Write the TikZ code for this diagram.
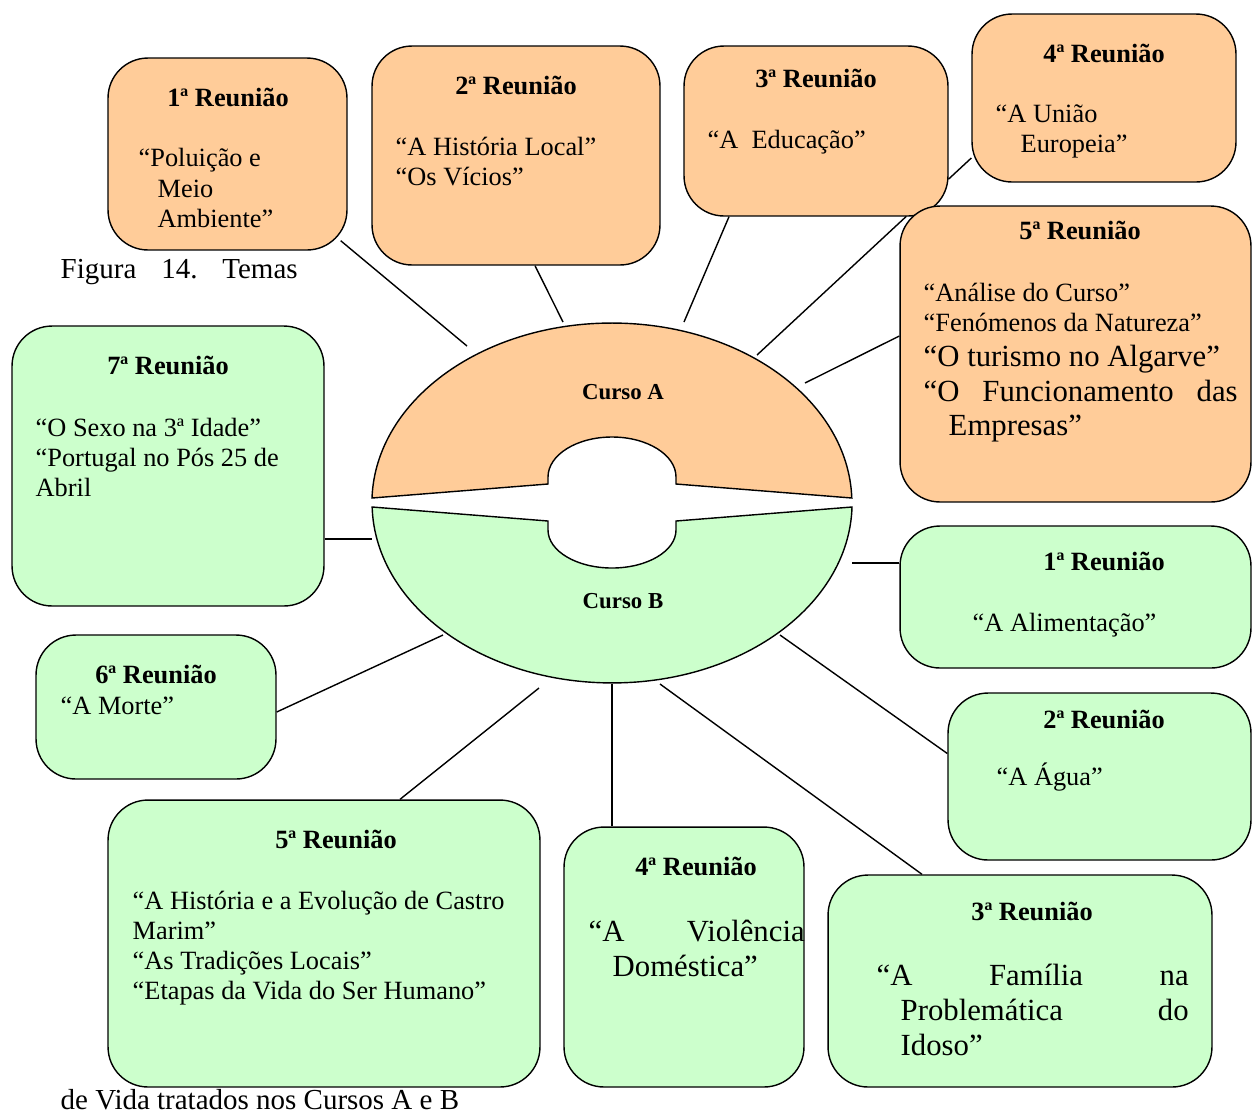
\documentclass[tikz,border=0pt]{standalone}
\usepackage{fontspec}
\setmainfont{Liberation Serif}
\usepackage{tikz}
\usetikzlibrary{calc,positioning}
\definecolor{laranja}{RGB}{255,204,153}
\definecolor{verde}{RGB}{204,255,204}

\begin{document}
\begin{tikzpicture}[x=0.02cm, y=-0.02cm, line width=0.8pt,
  caixa/.style={draw, rounded corners=0.8cm, inner sep=0pt},
  cursoA/.style={caixa, fill=laranja},
  cursoB/.style={caixa, fill=verde},
  titulo/.style={font=\fontsize{15}{17}\selectfont\bfseries, inner sep=0pt, anchor=base},
  texto/.style={font=\fontsize{15}{17.1}\selectfont, align=left, inner sep=0pt, anchor=north west},
  textog/.style={texto, font=\fontsize{17.5}{19.9}\selectfont},
  legenda/.style={texto, font=\fontsize{16.5}{19}\selectfont},
  liga/.style={draw, line width=0.8pt}]
\useasboundingbox (0,0) rectangle (1253,1117);

% as duas metades do anel
\draw[fill=laranja] (372,498) arc[start angle=181.6, end angle=358.4, x radius=240, y radius=180]
  -- (676,484) -- (676,477) arc[start angle=0, end angle=-180, x radius=64, y radius=40] -- (548,484) -- cycle;
\draw[fill=verde] (852,507) arc[start angle=1.3, end angle=178.7, x radius=240, y radius=180]
  -- (548,521) -- (548,530) arc[start angle=180, end angle=0, x radius=64, y radius=38] -- (676,521) -- cycle;
\node[font=\fontsize{13}{15}\selectfont\bfseries] (ca) at (623,392) {Curso A};
\node[font=\fontsize{13}{15}\selectfont\bfseries] (cb) at (623,601) {Curso B};

% pontos de ligacao no anel
\coordinate (pa1) at (467,346);
\coordinate (pa2) at (563,322);
\coordinate (pa3) at (684,322);
\coordinate (pa5a) at (757,355);
\coordinate (pa5b) at (805,383);
\coordinate (pb7) at (372,539);
\coordinate (pb1) at (852,563);
\coordinate (pb2) at (780,635);
\coordinate (pb3) at (660,684);
\coordinate (pb4) at (612,684);
\coordinate (pb5) at (539,688);
\coordinate (pb6) at (443,635);

% Curso A
\node[cursoA, minimum width=4.78cm, minimum height=3.84cm] (a1) at (227.5,154) {};
\node[cursoA, minimum width=5.76cm, minimum height=4.38cm] (a2) at (516,155.5) {};
\node[cursoA, minimum width=5.28cm, minimum height=3.40cm] (a3) at (816,131) {};
\node[cursoA, minimum width=5.28cm, minimum height=3.36cm] (a4) at (1104,98) {};
\node[cursoA, minimum width=7.02cm, minimum height=5.92cm] (a5) at (1075.5,354) {};

% Curso B
\node[cursoB, minimum width=6.24cm, minimum height=5.60cm] (b7) at (168,466) {};
\node[cursoB, minimum width=4.80cm, minimum height=2.88cm] (b6) at (156,707) {};
\node[cursoB, minimum width=8.64cm, minimum height=5.74cm] (b5) at (324,943.5) {};
\node[cursoB, minimum width=4.80cm, minimum height=5.20cm] (b4) at (684,957) {};
\node[cursoB, minimum width=7.68cm, minimum height=4.24cm] (b3) at (1020,981) {};
\node[cursoB, minimum width=7.02cm, minimum height=2.84cm] (b1) at (1075.5,597) {};
\node[cursoB, minimum width=6.06cm, minimum height=3.34cm] (b2) at (1099.5,776.5) {};

% ligacoes
\draw[liga] ($(a1.south east)+(-7,-10)$) -- (pa1);
\draw[liga] ($(a2.south)+(19,0)$) -- (pa2);
\draw[liga] ($(a3.south)+(-87,0)$) -- (pa3);
\draw[liga] ($(a4.west)+(0,60)$) -- ($(a3.east)+(0,48)$);
\draw[liga] ($(a5.north west)+(7,11)$) -- (pa5a);
\draw[liga] ($(a5.west)+(0,-18)$) -- (pa5b);
\draw[liga] ($(b7.east)+(0,73)$) -- (pb7);
\draw[liga] ($(b1.west)+(0,-34)$) -- (pb1);
\draw[liga] ($(b2.west)+(0,-23)$) -- (pb2);
\draw[liga] ($(b3.north)+(-98,0)$) -- (pb3);
\draw[liga] ($(b4.north)+(-72,0)$) -- (pb4);
\draw[liga] ($(b5.north)+(76,0)$) -- (pb5);
\draw[liga] ($(b6.east)+(0,5)$) -- (pb6);

% titulos
\node[titulo] (ta1) at (228,106) {1ª Reunião};
\node[titulo] (ta2) at (516,94) {2ª Reunião};
\node[titulo] (ta3) at (816,87) {3ª Reunião};
\node[titulo] (ta4) at (1104,62) {4ª Reunião};
\node[titulo] (ta5) at (1080,239) {5ª Reunião};
\node[titulo] (tb7) at (168,374) {7ª Reunião};
\node[titulo] (tb6) at (156,683) {6ª Reunião};
\node[titulo] (tb5) at (336,848) {5ª Reunião};
\node[titulo] (tb4) at (696,875) {4ª Reunião};
\node[titulo] (tb3) at (1032,920) {3ª Reunião};
\node[titulo] (tb1) at (1104,570) {1ª Reunião};
\node[titulo] (tb2) at (1104,728) {2ª Reunião};

% temas
\node[texto] (xa1) at (138,148) {“Poluição e\\\hspace*{0.38cm}Meio\\\hspace*{0.38cm}Ambiente”};
\node[texto] (xa2) at (395,136) {“A História Local”\\“Os Vícios”};
\node[texto] (xa3) at (707,130) {“A\ \ Educação”};
\node[texto] (xa4) at (995,104) {“A União\\\hspace*{0.5cm}Europeia”};
\node[texto] (xa5) at (923,282) {“Análise do Curso”\\“Fenómenos da Natureza”};
\node[textog] (xa5g) at (923,344) {“O turismo no Algarve”\\\makebox[6.28cm]{“O\hfill Funcionamento\hfill das}\\\hspace*{0.5cm}Empresas”};
\node[texto] (xb7) at (35,417) {“O Sexo na 3ª Idade”\\“Portugal no Pós 25 de\\Abril};
\node[texto] (xb6) at (60,696) {“A Morte”};
\node[texto] (xb5) at (132,890) {“A História e a Evolução de Castro\\Marim”\\“As Tradições Locais”\\“Etapas da Vida do Ser Humano”};
\node[textog] (xb4) at (588,919) {\makebox[4.32cm]{“A\hfill Violência}\\\hspace*{0.48cm}Doméstica”};
\node[textog] (xb3) at (876,963) {\makebox[6.24cm]{“A\hfill Família\hfill na}\\\hspace*{0.48cm}\makebox[5.76cm]{Problemática\hfill do}\\\hspace*{0.48cm}Idoso”};
\node[texto] (xb1) at (972,612) {“A Alimentação”};
\node[texto] (xb2) at (996,762) {“A Água”};

% legenda
\node[legenda] (leg1) at (60,259) {\makebox[4.74cm]{Figura\hfill 14.\hfill Temas}};
\node[legenda] (leg2) at (60,1089) {de Vida tratados nos Cursos A e B};
\end{tikzpicture}
\end{document}
